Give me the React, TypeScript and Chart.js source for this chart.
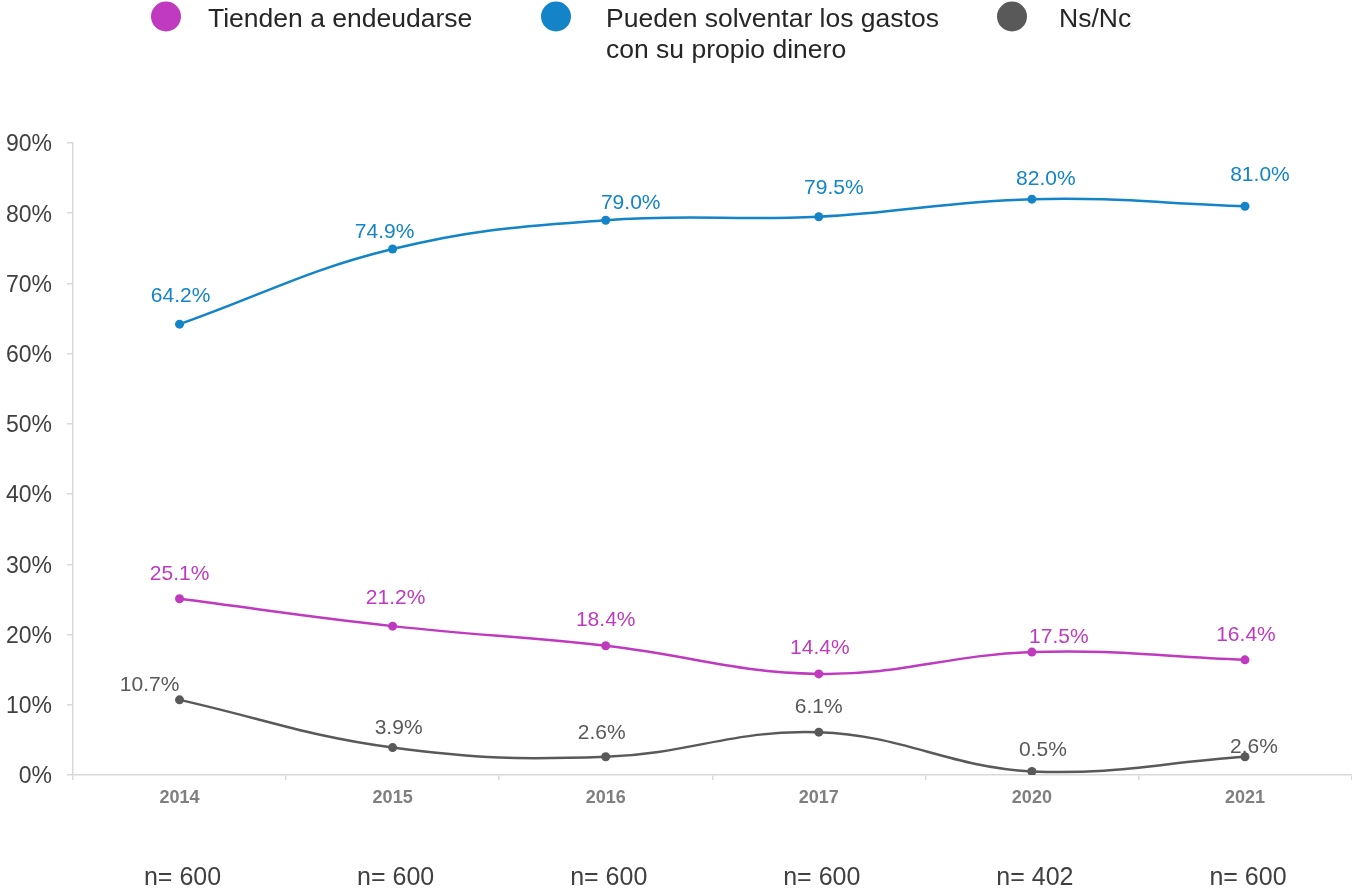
import React, { useEffect, useRef } from "react";
import { Chart, registerables } from "chart.js";

Chart.register(...registerables);

const years = ["2014", "2015", "2016", "2017", "2020", "2021"];
const sampleSizes = ["n= 600", "n= 600", "n= 600", "n= 600", "n= 402", "n= 600"];
const endeudarse = [25.1, 21.2, 18.4, 14.4, 17.5, 16.4];
const solventar = [64.2, 74.9, 79.0, 79.5, 82.0, 81.0];
const nsnc = [10.7, 3.9, 2.6, 6.1, 0.5, 2.6];
const seriesNames = [
  ["Tienden a endeudarse"],
  ["Pueden solventar los gastos", "con su propio dinero"],
  ["Ns/Nc"],
];
const seriesColors = ["#BF3ABF", "#1284C7", "#595959"];
const yMin = 0;
const yMax = 90;
const yStep = 10;

const FONT = "'Liberation Sans', Arial, Helvetica, sans-serif";

// layout of the legend (pixel positions, not data)
const legendLayout = [
  { cx: 166, tx: 208 },
  { cx: 556, tx: 606 },
  { cx: 1012, tx: 1059 },
];

// manual label placement relative to each point [dx, dy] (as in the source)
const labelNudges = [
  [[0, -27], [3, -30], [0, -27.5], [1, -27.5], [27, -17], [1, -27]],
  [[1, -30], [-8, -19], [25, -19], [15, -31], [14, -21.5], [15, -33]],
  [[-30, -17], [6, -21], [-4, -25.5], [0, -27], [11, -23.5], [9, -12]],
];

const CANVAS_W = 1356;
const CANVAS_H = 891;

const overlayPlugin = {
  id: "overlay",
  afterDatasetsDraw(chart: any) {
    const ctx = chart.ctx as CanvasRenderingContext2D;
    ctx.save();
    // data labels
    ctx.font = `21px ${FONT}`;
    ctx.textAlign = "center";
    ctx.textBaseline = "middle";
    chart.data.datasets.forEach((ds: any, di: number) => {
      const meta = chart.getDatasetMeta(di);
      meta.data.forEach((pt: any, i: number) => {
        const v = ds.data[i] as number;
        const [dx, dy] = labelNudges[di][i];
        ctx.fillStyle = ds.borderColor;
        ctx.fillText(v.toFixed(1) + "%", pt.x + dx, pt.y + dy + 2);
      });
    });
    // legend
    seriesNames.forEach((lines, i) => {
      const l = legendLayout[i];
      ctx.beginPath();
      ctx.arc(l.cx, 16.5, 15, 0, Math.PI * 2);
      ctx.fillStyle = seriesColors[i];
      ctx.fill();
      ctx.font = `26.5px ${FONT}`;
      ctx.textAlign = "left";
      ctx.textBaseline = "alphabetic";
      ctx.fillStyle = "#262626";
      lines.forEach((t, li) => {
        ctx.fillText(t, l.tx, 26.5 + li * 31.5);
      });
    });
    // sample sizes
    const xs = chart.scales.x;
    ctx.font = `25px ${FONT}`;
    ctx.textAlign = "center";
    ctx.textBaseline = "alphabetic";
    ctx.fillStyle = "#404040";
    sampleSizes.forEach((s, i) => {
      ctx.fillText(s, xs.getPixelForValue(i) + 3, 885);
    });
    ctx.restore();
  },
};

export default function App() {
  const ref = useRef<HTMLCanvasElement | null>(null);
  useEffect(() => {
    if (!ref.current) return;
    const dsData = [endeudarse, solventar, nsnc];
    const chart = new Chart(ref.current, {
      type: "line",
      data: {
        labels: years,
        datasets: dsData.map((d, i) => ({
          label: seriesNames[i].join(" "),
          data: d,
          borderColor: seriesColors[i],
          backgroundColor: seriesColors[i],
          pointBackgroundColor: seriesColors[i],
          pointBorderWidth: 0,
          pointRadius: 4.5,
          borderWidth: 2.5,
          tension: 0.4,
          fill: false,
        })),
      },
      options: {
        animation: false,
        responsive: false,
        maintainAspectRatio: false,
        layout: { padding: { top: 143, right: 0, bottom: 0, left: 0 } },
        plugins: {
          legend: { display: false },
          tooltip: { enabled: false },
          title: { display: false },
        },
        scales: {
          x: {
            type: "category",
            offset: true,
            afterFit: (s: any) => {
              s.height = 116;
            },
            border: { display: true, color: "#D9D9D9", width: 1.5 },
            grid: {
              offset: true,
              drawOnChartArea: false,
              drawTicks: true,
              tickLength: 5,
              color: "#D9D9D9",
              lineWidth: 1.5,
            },
            ticks: {
              color: "#7F7F7F",
              font: { family: FONT, size: 18, weight: "bold" },
              padding: 7,
              maxRotation: 0,
            },
          },
          y: {
            min: yMin,
            max: yMax,
            afterFit: (s: any) => {
              s.width = 73;
            },
            border: { display: true, color: "#D9D9D9", width: 1.5 },
            grid: {
              drawOnChartArea: false,
              drawTicks: true,
              tickLength: 6,
              color: "#D9D9D9",
              lineWidth: 1.5,
            },
            ticks: {
              stepSize: yStep,
              color: "#404040",
              font: { family: FONT, size: 23 },
              padding: 15,
              labelOffset: 2,
              callback: (v: any) => `${v}%`,
            },
          },
        },
      } as any,
      plugins: [overlayPlugin],
    });
    return () => chart.destroy();
  }, []);
  return (
    <div
      style={{
        position: "absolute",
        left: 0,
        top: 0,
        width: 1352,
        height: 891,
        overflow: "hidden",
        background: "#fff",
      }}
    >
      <canvas ref={ref} width={CANVAS_W} height={CANVAS_H} style={{ display: "block" }} />
    </div>
  );
}
